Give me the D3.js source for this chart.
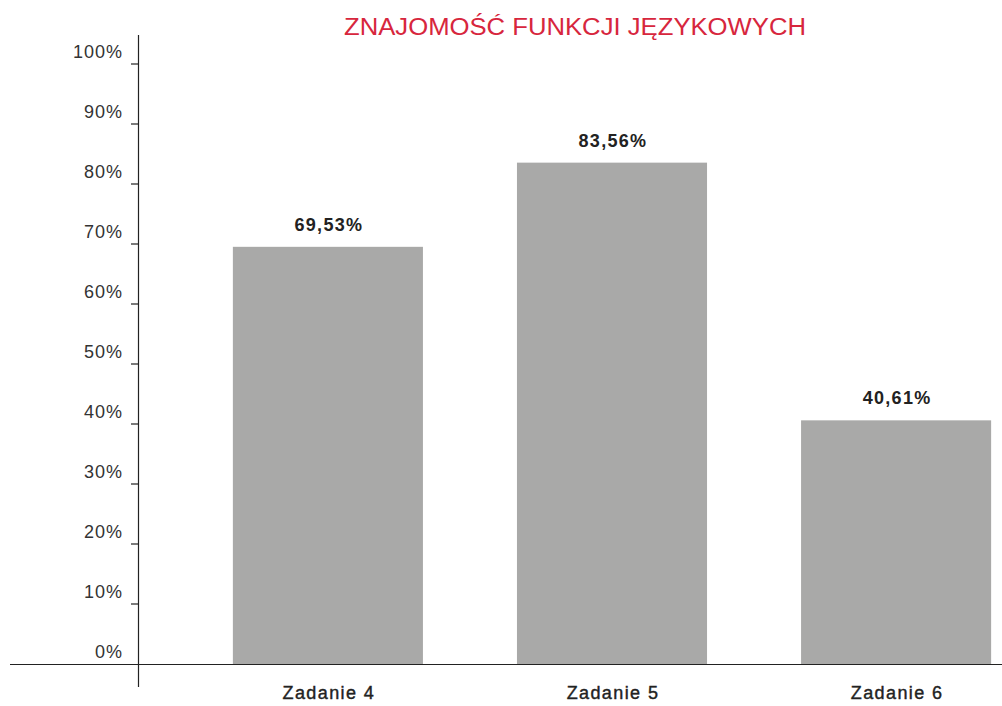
<!DOCTYPE html>
<meta charset="utf-8">
<head>
<script src="https://d3js.org/d3.v7.min.js"></script>
<style>
  body { margin: 0; background: #fff; }
</style>
</head>
<body>
<div id="chart"></div>
<script>

    // data
    var categories = ["Zadanie 4", "Zadanie 5", "Zadanie 6"];
    var values = [69.53, 83.56, 40.61];
    var valueLabels = ["69,53%", "83,56%", "40,61%"];
    var yTicks = [0, 10, 20, 30, 40, 50, 60, 70, 80, 90, 100];

    var W = 1002, H = 706;

    var svg = d3.select("#chart")
      .append("svg")
        .attr("width", W)
        .attr("height", H);

    var x = d3.scaleBand()
      .domain(categories)
      .range([186, 1038])
      .paddingInner(0.331)
      .paddingOuter(0.165);

    var y = d3.scaleLinear()
      .domain([0, 100])
      .range([664, 64]);

    // Title
    svg.append("text")
      .attr("x", 575)
      .attr("y", 35)
      .attr("text-anchor", "middle")
      .style("font-family", "'Liberation Sans', Arial, sans-serif")
      .style("font-size", "23px")
      .style("fill", "#d7263d")
      .attr("textLength", 462)
      .attr("lengthAdjust", "spacingAndGlyphs")
      .text("ZNAJOMOŚĆ FUNKCJI JĘZYKOWYCH");

    // bars
    svg.append("g")
      .selectAll("rect")
      .data(values)
      .enter()
      .append("rect")
        .attr("x", function (d, i) { return x(categories[i]); })
        .attr("y", function (d) { return y(d); })
        .attr("width", x.bandwidth())
        .attr("height", function (d) { return y(0) - y(d); })
        .style("fill", "#a9a9a8");

    // value labels
    svg.append("g")
      .selectAll("text")
      .data(values)
      .enter()
      .append("text")
        .attr("x", function (d, i) { return x(categories[i]) + x.bandwidth() / 2 + 1; })
        .attr("y", function (d) { return y(d) - 16; })
        .attr("text-anchor", "middle")
        .style("font-family", "'Liberation Sans', Arial, sans-serif")
        .style("font-size", "18px")
        .style("font-weight", "bold")
        .style("letter-spacing", "1.3px")
        .style("fill", "#222")
        .text(function (d, i) { return valueLabels[i]; });

    // Y axis (ticks to the left, labels above tick)
    var yAxis = svg.append("g");
    yAxis.append("line")
      .attr("x1", 138.5).attr("x2", 138.5)
      .attr("y1", 35).attr("y2", 687)
      .style("stroke", "#222").style("stroke-width", 1.2);

    yAxis.selectAll(".tick")
      .data(yTicks.filter(function (d) { return d > 0; }))
      .enter()
      .append("line")
        .attr("x1", 131).attr("x2", 138.5)
        .attr("y1", function (d) { return y(d); })
        .attr("y2", function (d) { return y(d); })
        .style("stroke", "#222").style("stroke-width", 1.2);

    yAxis.selectAll(".lbl")
      .data(yTicks)
      .enter()
      .append("text")
        .attr("x", 123)
        .attr("y", function (d) { return y(d) - 6; })
        .attr("text-anchor", "end")
        .style("font-family", "'Liberation Sans', Arial, sans-serif")
        .style("font-size", "18px")
        .style("letter-spacing", "1px")
        .style("fill", "#333")
        .text(function (d) { return d + "%"; });

    // baseline
    svg.append("line")
      .attr("x1", 10).attr("x2", 1002)
      .attr("y1", y(0) + 0.5).attr("y2", y(0) + 0.5)
      .style("stroke", "#222").style("stroke-width", 1.2);

    // category labels
    svg.append("g")
      .selectAll("text")
      .data(categories)
      .enter()
      .append("text")
        .attr("x", function (d) { return x(d) + x.bandwidth() / 2 + 1; })
        .attr("y", 699)
        .attr("text-anchor", "middle")
        .style("font-family", "'Liberation Sans', Arial, sans-serif")
        .style("font-size", "18px")
        .style("letter-spacing", "1.4px")
        .style("fill", "#222")
        .style("stroke", "#222")
        .style("stroke-width", 0.4)
        .text(function (d) { return d; });

</script>
</body>
</html>
